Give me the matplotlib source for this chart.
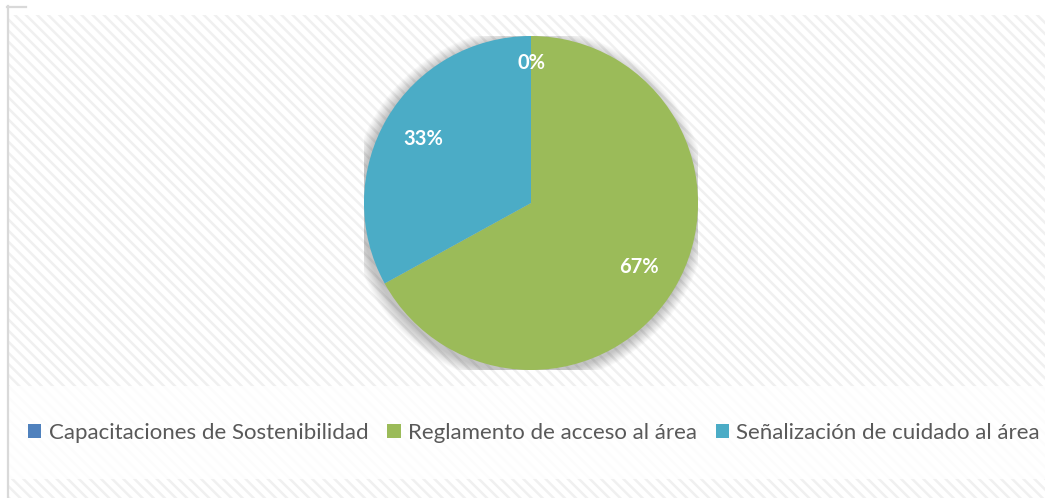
import matplotlib
matplotlib.use("Agg")
import matplotlib.pyplot as plt
from matplotlib.patches import Rectangle, Circle

categories = ["Capacitaciones de Sostenibilidad", "Reglamento de acceso al área",
              "Señalización de cuidado al área"]
values = [0, 67, 33]
colors = ["#4F81BD", "#9BBB59", "#4BACC6"]

W, H = 1045, 498
plt.rcParams["hatch.linewidth"] = 1.8
fig = plt.figure(figsize=(W / 100, H / 100), dpi=100)
fig.patch.set_facecolor("white")

# background
bg = fig.add_axes([0, 0, 1, 1], zorder=0)
bg.set_xlim(0, W)
bg.set_ylim(H, 0)
bg.axis("off")
bg.add_patch(Rectangle((9, 15), W - 9, H - 15, facecolor="white", edgecolor="#f0f0f0",
                       hatch="\\\\\\", linewidth=0))
bg.add_patch(Rectangle((9, 386), W - 9, 93, facecolor="white", edgecolor="none", alpha=0.85))
bg.plot([7.5, 7.5], [6, H], color="#d9d9d9", lw=1.6)
bg.plot([7, 26], [6.5, 6.5], color="#d9d9d9", lw=1.6)

# pie
cx, cy, r = 531, 203, 167
ax = fig.add_axes([(cx - r) / W, (H - cy - r) / H, 2 * r / W, 2 * r / H], zorder=2)
ax.set_facecolor("none")
# soft shadow
for k in range(12):
    rr = 1.0 + 0.006 * (k + 1)
    ax.add_patch(Circle((-0.012, -0.02), rr, facecolor="#000000", alpha=0.018,
                        edgecolor="none", zorder=0))
wedges, texts, autotexts = ax.pie(values, colors=colors, startangle=90, counterclock=False,
                                  autopct="%1.0f%%", pctdistance=0.75, radius=1.0,
                                  wedgeprops=dict(linewidth=0),
                                  textprops=dict(color="white", fontsize=14.5,
                                                 fontweight="bold", family="Lato"))
autotexts[0].set_position((0, 0.84))
ax.set_xlim(-1, 1)
ax.set_ylim(-1, 1)
ax.set_aspect("equal")
ax.axis("off")

handles = [Rectangle((0, 0), 1, 1, facecolor=c, edgecolor="none") for c in colors]
leg = fig.legend(handles, categories, loc="center", bbox_to_anchor=(534 / W, (H - 433) / H),
                 ncol=3, frameon=False, prop=dict(family="Lato", size=16),
                 handlelength=0.6, handleheight=0.6, handletextpad=0.32, columnspacing=0.86,
                 labelcolor="#595959")

fig.savefig("out.png", dpi=100)
